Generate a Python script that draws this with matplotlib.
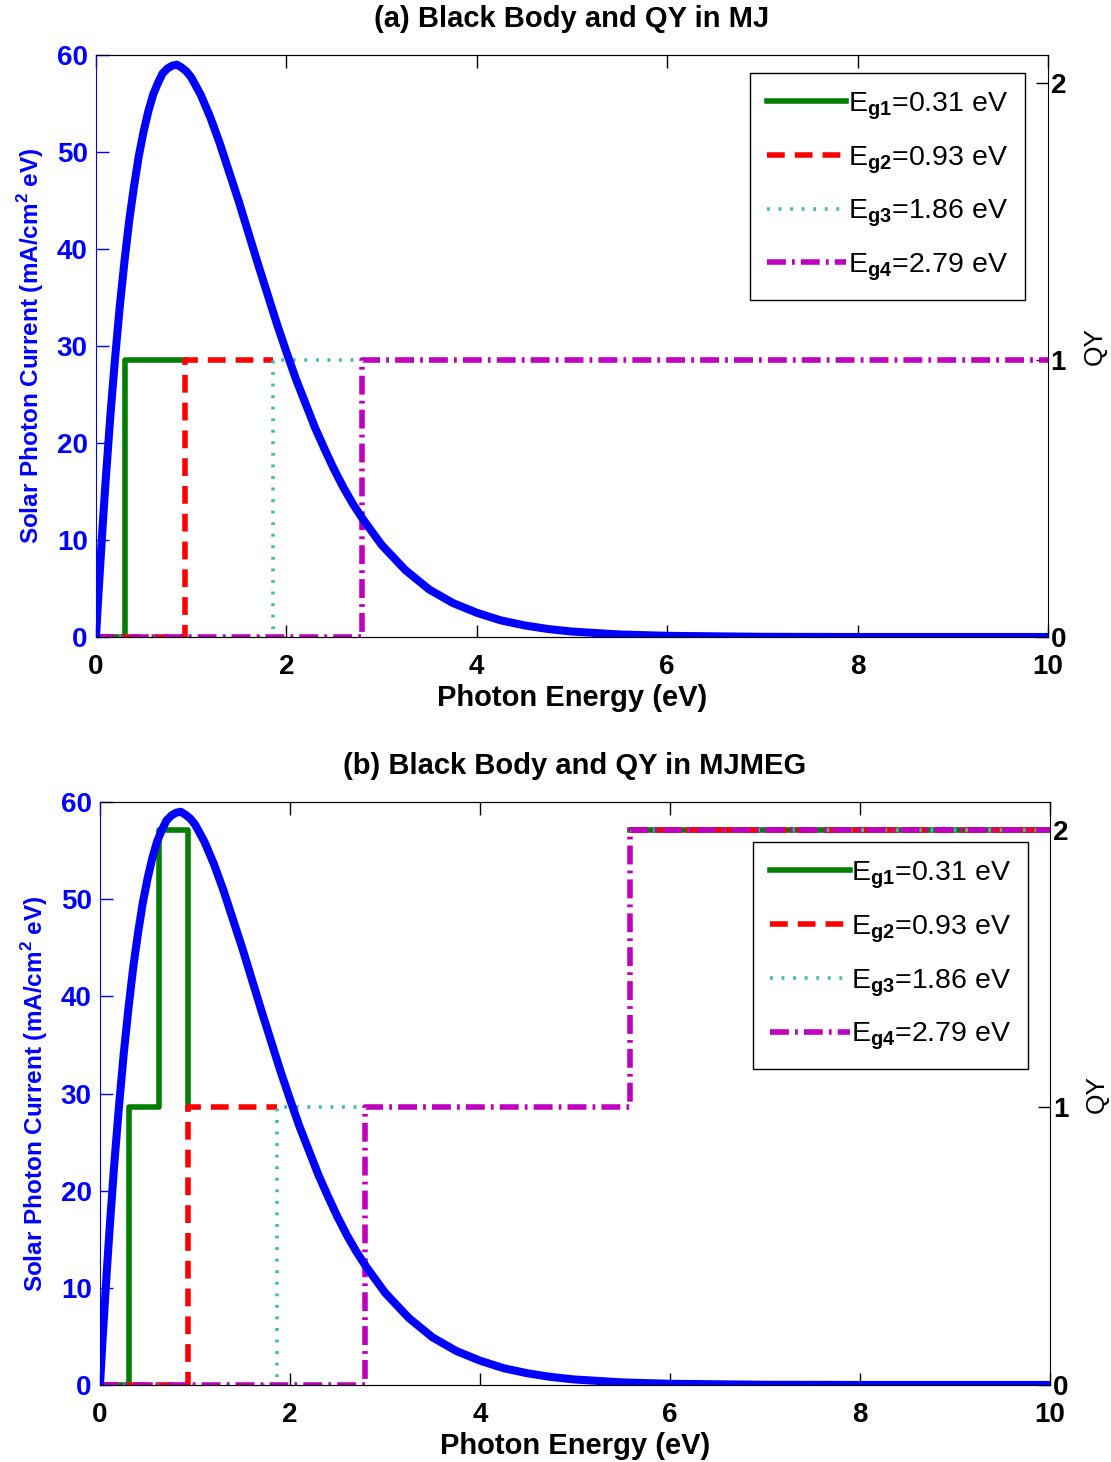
#!/usr/bin/env python3

import numpy as np
import matplotlib
matplotlib.use('Agg')
import matplotlib.pyplot as plt

plt.rcParams['font.family'] = ['Liberation Sans', 'DejaVu Sans']
plt.rcParams['mathtext.fontset'] = 'custom'
plt.rcParams['mathtext.rm'] = 'Liberation Sans'
plt.rcParams['mathtext.bf'] = 'Liberation Sans:bold'

# black body photon current
energy = [0, 0.025, 0.05, 0.075, 0.1, 0.15, 0.2, 0.25, 0.3, 0.35, 0.4, 0.45, 0.5, 0.55,
          0.6, 0.65, 0.7, 0.75, 0.8, 0.85, 0.9, 0.95, 1.0, 1.1, 1.2, 1.3, 1.4, 1.5,
          1.6, 1.7, 1.8, 1.9, 2.0, 2.1, 2.2, 2.3, 2.4, 2.5, 2.6, 2.7, 2.8, 3.0, 3.25,
          3.5, 3.75, 4.0, 4.25, 4.5, 4.75, 5.0, 5.5, 6.0, 7.0, 8.0, 10.0]
current = [0, 4.3, 8.3, 12.2, 15.9, 22.7, 28.7, 34.1, 38.8, 43.0, 46.5, 49.6, 52.1, 54.2,
           55.9, 57.1, 58.1, 58.6, 58.9, 59.0, 58.7, 58.3, 57.7, 55.9, 53.6, 50.9, 47.9, 44.9,
           41.7, 38.5, 35.4, 32.3, 29.4, 26.6, 24.1, 21.6, 19.4, 17.3, 15.4, 13.7, 12.2, 9.5, 6.9,
           4.9, 3.5, 2.5, 1.72, 1.2, 0.82, 0.56, 0.26, 0.12, 0.02, 0.0, 0.0]

gap_labels = ['0.31', '0.93', '1.86', '2.79']

# (a) MJ: quantum yield steps per cell
mj_x = [[0, 0.31, 0.31, 0.93],
        [0, 0.93, 0.93, 1.86],
        [0, 1.86, 1.86, 2.79],
        [0, 2.79, 2.79, 10]]
mj_y = [[0, 0, 1, 1],
        [0, 0, 1, 1],
        [0, 0, 1, 1],
        [0, 0, 1, 1]]

# (b) MJMEG: quantum yield steps per cell (nan = pen up)
meg_x = [[0, 0.31, 0.31, 0.62, 0.62, 0.93, 0.93, np.nan, 5.58, 10],
         [0, 0.93, 0.93, 1.86, np.nan, 5.58, 10],
         [0, 1.86, 1.86, 2.79, np.nan, 5.58, 10],
         [0, 2.79, 2.79, 5.58, 5.58, 10]]
meg_y = [[0, 0, 1, 1, 2, 2, 1, np.nan, 2, 2],
         [0, 0, 1, 1, np.nan, 2, 2],
         [0, 0, 1, 1, np.nan, 2, 2],
         [0, 0, 1, 1, 2, 2]]

colors = ['#007f00', '#ff0000', '#40bfb0', '#bf00bf']
styles = ['-', (0, (3.2, 1.8)), (0, (0.8, 2.4)), (0, (3.4, 1.1, 0.5, 1.1))]
widths = [4.0, 4.0, 2.6, 4.0]

BLUE = '#0000ff'


def draw_panel(fig, rect, title, qx, qy, leg_anchor):
    ax = fig.add_axes(rect)
    ax2 = ax.twinx()
    ax.set_zorder(ax2.get_zorder() + 1)
    ax.patch.set_visible(False)

    for i in range(4):
        ax2.plot(qx[i], qy[i], color=colors[i], linestyle=styles[i], lw=widths[i],
                 label=r'E$_{\bf g%d}$=%s eV' % (i + 1, gap_labels[i]))
    ax.plot(energy, current, color=BLUE, lw=5.8, solid_joinstyle='round')

    ax.set_xlim(0, 10)
    ax.set_ylim(0, 60)
    ax2.set_ylim(0, 2.1)
    ax.set_xticks([0, 2, 4, 6, 8, 10])
    ax.set_yticks([0, 10, 20, 30, 40, 50, 60])
    ax2.set_yticks([0, 1, 2])

    ax.tick_params(axis='x', direction='in', top=True, length=9, width=1,
                   labelsize=20, pad=12)
    ax.tick_params(axis='y', direction='in', right=False, length=9, width=1,
                   labelsize=20, colors=BLUE, pad=6)
    ax2.tick_params(axis='y', direction='in', length=9, width=1, labelsize=20, pad=2)
    for lab in ax.get_xticklabels() + ax.get_yticklabels() + ax2.get_yticklabels():
        lab.set_fontweight('bold')

    ax.spines['left'].set_color(BLUE)
    ax2.spines['left'].set_visible(False)
    ax.spines['right'].set_visible(False)

    ax.set_xlabel('Photon Energy (eV)', fontsize=21, fontweight='bold', labelpad=3)
    ax.set_ylabel(r'Solar Photon Current (mA/cm$^{\bf 2}$ eV)', fontsize=17.5,
                  fontweight='bold', color=BLUE, labelpad=8)
    ax2.set_ylabel('QY', fontsize=19, labelpad=12)
    ax.set_title(title, fontsize=21, fontweight='bold', pad=20)

    h, l = ax2.get_legend_handles_labels()
    leg = ax.legend(h, l, loc='upper right', bbox_to_anchor=leg_anchor, fontsize=20.5,
                    handlelength=2.8, handletextpad=0.05, labelspacing=0.78,
                    borderpad=0.6, borderaxespad=0, fancybox=False, framealpha=1,
                    edgecolor='black')
    leg.get_frame().set_linewidth(1.0)
    return ax


fig = plt.figure(figsize=(11.11, 14.62), dpi=100)
draw_panel(fig, [0.0864, 0.5643, 0.8568, 0.3981], '(a) Black Body and QY in MJ',
           mj_x, mj_y, (0.976, 0.969))
draw_panel(fig, [0.0900, 0.0527, 0.8551, 0.3987], '(b) Black Body and QY in MJMEG',
           meg_x, meg_y, (0.977, 0.931))
fig.savefig('out.png', dpi=100)
